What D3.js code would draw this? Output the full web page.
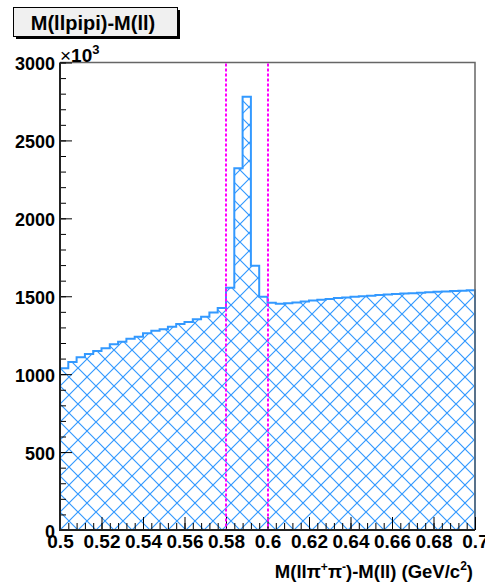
<!DOCTYPE html>
<html>
<head>
<meta charset="utf-8">
<script src="https://cdn.jsdelivr.net/npm/d3@7"></script>
<style>
    body { margin: 0; background: #fff; }
    text { font-family: "Liberation Sans", Arial, sans-serif; font-weight: bold; fill: #000; }
</style>
</head>
<body>
<svg id="chart"></svg>
<script>
// bin lower edges (GeV/c^2), bin width 0.004
const binStart = [
    0.500, 0.504, 0.508, 0.512, 0.516, 0.520, 0.524, 0.528, 0.532, 0.536,
    0.540, 0.544, 0.548, 0.552, 0.556, 0.560, 0.564, 0.568, 0.572, 0.576,
    0.580, 0.584, 0.588, 0.592, 0.596, 0.600, 0.604, 0.608, 0.612, 0.616,
    0.620, 0.624, 0.628, 0.632, 0.636, 0.640, 0.644, 0.648, 0.652, 0.656,
    0.660, 0.664, 0.668, 0.672, 0.676, 0.680, 0.684, 0.688, 0.692, 0.696
];
const binWidth = 0.004;

// entries per bin, in units of 10^3
const counts = [
    1038, 1078, 1108, 1129, 1149, 1166, 1192, 1208, 1228, 1240,
    1262, 1279, 1288, 1305, 1322, 1335, 1352, 1369, 1395, 1425,
    1555, 2321, 2780, 1696, 1497, 1458, 1452, 1455, 1460, 1466,
    1472, 1477, 1483, 1488, 1492, 1497, 1500, 1504, 1508, 1511,
    1514, 1517, 1520, 1523, 1526, 1529, 1531, 1534, 1536, 1538
];

const xTicks = [0.5, 0.52, 0.54, 0.56, 0.58, 0.6, 0.62, 0.64, 0.66, 0.68, 0.7];
const xTickLabels = ["0.5", "0.52", "0.54", "0.56", "0.58", "0.6", "0.62", "0.64", "0.66", "0.68", "0.7"];
const yTicks = [0, 500, 1000, 1500, 2000, 2500, 3000];
const yTickLabels = ["0", "500", "1000", "1500", "2000", "2500", "3000"];
const cutLines = [0.58, 0.6];

const width = 485, height = 583;
const frame = { left: 60, right: 475, top: 62.5, bottom: 530 };
const blue = "#3399ff";
const hatchSize = 18;

const svg = d3.select("#chart").attr("width", width).attr("height", height);
svg.append("rect").attr("width", width).attr("height", height).attr("fill", "#fff");

const x = d3.scaleLinear().domain([0.5, 0.7]).range([frame.left, frame.right]);
const y = d3.scaleLinear().domain([0, 3000]).range([frame.bottom, frame.top]);

// cross-hatch pattern (two families of 45 degree lines)
const defs = svg.append("defs");
const s = hatchSize;
let hatchPath = "";
for (let k = -1; k <= 1; k++) hatchPath += `M${-s},${-s - k * s}L${2 * s},${2 * s - k * s}`;
for (let k = 0; k <= 2; k++) hatchPath += `M${-s},${k * s + s}L${2 * s},${k * s - 2 * s}`;
defs.append("pattern")
    .attr("id", "hatch")
    .attr("patternUnits", "userSpaceOnUse")
    .attr("x", frame.left).attr("y", frame.bottom)
    .attr("width", s).attr("height", s)
    .append("path")
    .attr("d", hatchPath)
    .attr("stroke", blue)
    .attr("stroke-width", 1.2)
    .attr("fill", "none");

// histogram step outline
let pts = [[x(binStart[0]), y(0)]];
binStart.forEach((b, i) => {
    pts.push([x(b), y(counts[i])]);
    pts.push([x(b + binWidth), y(counts[i])]);
});
pts.push([x(binStart[binStart.length - 1] + binWidth), y(0)]);
const stepPath = d3.line()(pts);

svg.append("path")
    .attr("d", stepPath + "Z")
    .attr("fill", "url(#hatch)");

svg.append("path")
    .attr("d", stepPath)
    .attr("fill", "none")
    .attr("stroke", blue)
    .attr("stroke-width", 2);

// frame: top and right in grey
svg.append("path")
    .attr("d", `M${frame.left},${frame.top}H${frame.right}V${frame.bottom}`)
    .attr("fill", "none")
    .attr("stroke", "#666")
    .attr("stroke-width", 1.5);

// minor ticks
const xMinor = d3.axisBottom(x).tickValues(binStart.slice(1)).tickSize(-7).tickFormat("");
const yMinor = d3.axisLeft(y).tickValues(d3.range(0, 3001, 100)).tickSize(-6).tickFormat("");

svg.append("g").attr("transform", `translate(0,${frame.bottom})`).call(xMinor)
    .call(g => g.select(".domain").remove())
    .selectAll("line").attr("stroke", "#000");
svg.append("g").attr("transform", `translate(${frame.left},0)`).call(yMinor)
    .call(g => g.select(".domain").remove())
    .selectAll("line").attr("stroke", "#000");

// major ticks + labels
const xAxis = svg.append("g")
    .attr("transform", `translate(0,${frame.bottom})`)
    .call(d3.axisBottom(x).tickValues(xTicks).tickSize(-13).tickPadding(5)
        .tickFormat((d, i) => xTickLabels[i]));
xAxis.select(".domain").remove();
xAxis.selectAll("line").attr("stroke", "#000");
xAxis.selectAll("text").attr("font-size", 19).attr("font-family", null).style("fill", "#000");

const yAxis = svg.append("g")
    .attr("transform", `translate(${frame.left},0)`)
    .call(d3.axisLeft(y).tickValues(yTicks).tickSize(-12).tickPadding(5)
        .tickFormat((d, i) => yTickLabels[i]));
yAxis.select(".domain").remove();
yAxis.selectAll("line").attr("stroke", "#000");
yAxis.selectAll("text").attr("font-size", 18).attr("font-family", null).attr("dy", "0.4em").style("fill", "#000");

// cut lines (dotted magenta)
svg.selectAll(".cut")
    .data(cutLines)
    .join("line")
    .attr("class", "cut")
    .attr("x1", d => Math.round(x(d))).attr("x2", d => Math.round(x(d)))
    .attr("y1", frame.top + 1).attr("y2", frame.bottom)
    .attr("stroke", "#ff00ff")
    .attr("stroke-width", 2)
    .attr("stroke-dasharray", "3,2");

// axis lines
svg.append("path")
    .attr("d", `M${frame.left},${frame.top}V${frame.bottom}H${frame.right}`)
    .attr("fill", "none")
    .attr("stroke", "#222")
    .attr("stroke-width", 2);

// exponent label
const expo = svg.append("text").attr("x", frame.left).attr("y", 62).attr("font-size", 19);
expo.append("tspan").attr("font-weight", "normal").attr("font-size", 19).text("\u00d7");
expo.append("tspan").text("10");
expo.append("tspan").attr("font-size", 13).attr("dy", -8).text("3");

// x axis title
const xt = svg.append("text")
    .attr("x", 473).attr("y", 578)
    .attr("text-anchor", "end")
    .attr("font-size", 18.5);
xt.append("tspan").text("M(ll\u03c0");
xt.append("tspan").attr("font-size", 12).attr("dy", -7).text("+");
xt.append("tspan").attr("dy", 7).text("\u03c0");
xt.append("tspan").attr("font-size", 12).attr("dy", -7).text("-");
xt.append("tspan").attr("dy", 7).text(")-M(ll) (GeV/c");
xt.append("tspan").attr("font-size", 12).attr("dy", -8).text("2");
xt.append("tspan").attr("dy", 8).text(")");

// title box with shadow
svg.append("rect").attr("x", 16).attr("y", 10).attr("width", 164).attr("height", 29).attr("fill", "#000");
svg.append("rect").attr("x", 13.5).attr("y", 7.5).attr("width", 164).attr("height", 29)
    .attr("fill", "#f0f0f0").attr("stroke", "#000").attr("stroke-width", 1);
svg.append("text")
    .attr("x", 93).attr("y", 30)
    .attr("text-anchor", "middle")
    .attr("font-size", 20)
    .text("M(llpipi)-M(ll)");
</script>
</body>
</html>
